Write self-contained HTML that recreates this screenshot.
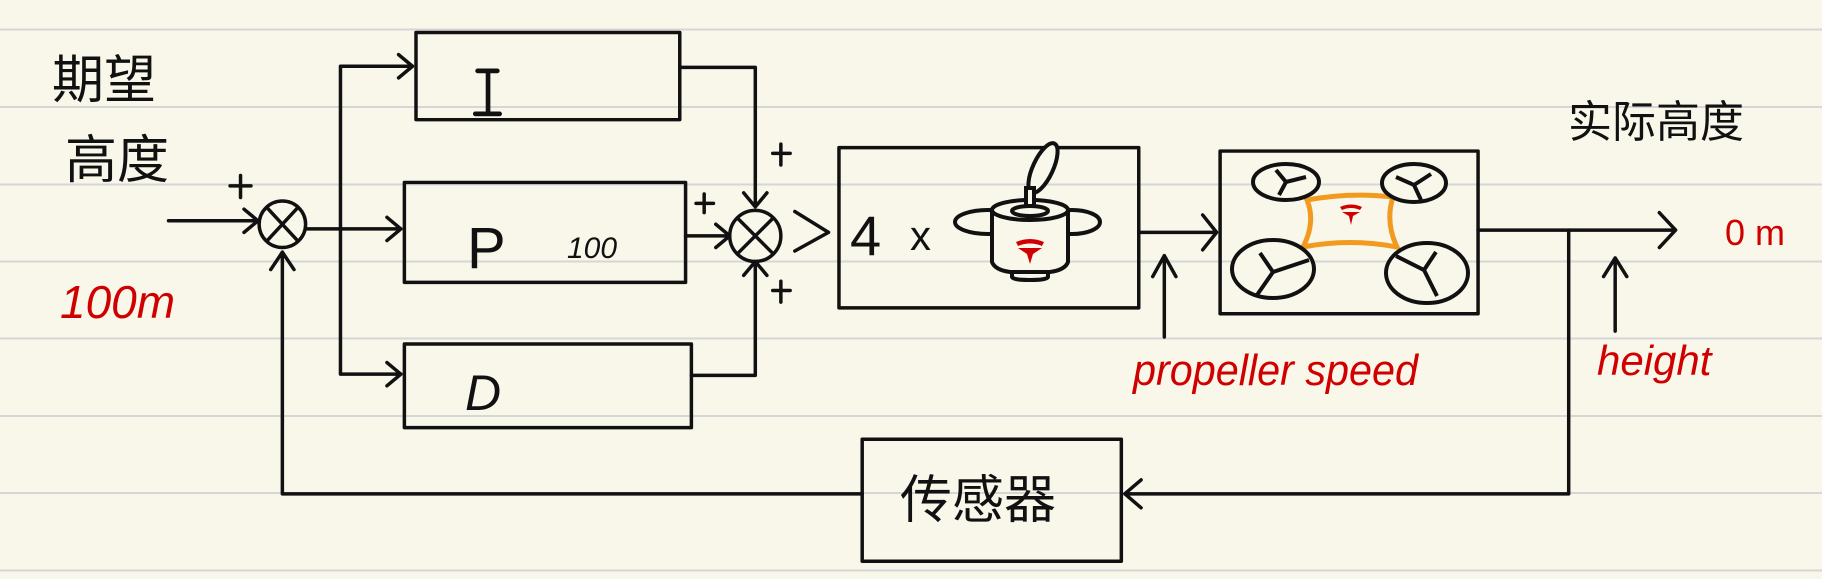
<!DOCTYPE html>
<html><head><meta charset="utf-8"><style>
html,body{margin:0;padding:0;background:#f8f7ea;}
svg{display:block}
text{font-family:"Liberation Sans","Noto Sans CJK SC",sans-serif;}
</style></head><body>
<svg width="1822" height="579" viewBox="0 0 1822 579" xmlns="http://www.w3.org/2000/svg">
<rect width="1822" height="579" fill="#f8f7ea"/>
<g stroke="#d6d6d6" stroke-width="2">
<line x1="0" y1="29.5" x2="1822" y2="29.5"/><line x1="0" y1="107" x2="1822" y2="107"/>
<line x1="0" y1="184.5" x2="1822" y2="184.5"/><line x1="0" y1="261.5" x2="1822" y2="261.5"/>
<line x1="0" y1="338.5" x2="1822" y2="338.5"/><line x1="0" y1="416" x2="1822" y2="416"/>
<line x1="0" y1="493" x2="1822" y2="493"/><line x1="0" y1="570.5" x2="1822" y2="570.5"/>
</g>
<g transform="scale(1.162)" fill="none" stroke="#111" stroke-width="3" stroke-linecap="round" stroke-linejoin="round">
<rect x="358" y="28" width="227" height="75"/>
<rect x="348" y="157" width="242" height="86"/>
<rect x="348" y="296" width="247" height="72"/>
<rect x="722" y="127" width="258" height="138"/>
<rect x="1050" y="130" width="222" height="140"/>
<rect x="742" y="378" width="223" height="105"/>
<circle cx="243" cy="193" r="20"/><path d="M230 179L256 207M256 179L230 207"/>
<circle cx="650" cy="203" r="22"/><path d="M635 188L665 218M665 188L635 218"/>
<path d="M145 190H222M210 180L222 190L210 200"/>
<path d="M263 197H345M333 187L345 197L333 207"/>
<path d="M293 197V57H355M343 47L355 57L343 67"/>
<path d="M293 197V322H345M333 312L345 322L333 332"/>
<path d="M585 58H650V178M640 166L650 178L660 166"/>
<path d="M590 203H628M616 193L628 203L616 213"/>
<path d="M595 323H650V225M640 237L650 225L660 237"/>
<path d="M684 182L713 200L684 216"/>
<path d="M980 200H1047M1035 185L1047 200L1035 215"/>
<path d="M1002 290V220M992 238L1002 220L1012 238"/>
<path d="M1272 198H1442M1428 183L1442 198L1428 213"/>
<path d="M1350 198V425H968M982 413L968 425L982 437"/>
<path d="M1390 285V222M1380 238L1390 222L1400 238"/>
<path d="M742 425H243V217M233 232L243 217L253 232"/>
<path d="M198 160H216M207 151V170M599 175H614M606 167V183M665 132H680M672 124V142M665 250H680M672 242V260"/>
<path d="M420 61V98M411 61H428M409 98H430" stroke-width="4"/>
</g>
<!-- motor -->
<g fill="none" stroke="#111" stroke-width="4">
<ellipse cx="988" cy="222" rx="33" ry="12"/>
<ellipse cx="1072" cy="222" rx="28" ry="12"/>
<path d="M992 210V262Q995 270 1010 272H1050Q1065 270 1068 262V210" fill="#f8f7ea"/>
<ellipse cx="1030" cy="210" rx="38" ry="10" fill="#f8f7ea"/>
<ellipse cx="1030" cy="211" rx="18" ry="5"/>
<path d="M1012 272V277Q1013 280 1030 280Q1047 280 1048 277V272"/>
<ellipse cx="1043" cy="168" rx="10" ry="27" transform="rotate(25 1043 168)" fill="#f8f7ea"/>
<rect x="1026" y="188" width="8" height="18" fill="#f8f7ea"/>
</g>
<g fill="#d10000"><path d="M1016 242Q1030 236 1044 242L1042 246Q1030 241 1018 246Z"/><path d="M1018 248L1042 248L1033 254L1030 264L1027 254Z"/></g>
<!-- drone -->
<path d="M1307 200Q1350 192 1393 197Q1385 222 1397 247Q1350 238 1303 247Q1316 222 1307 200Z" fill="none" stroke="#f29a20" stroke-width="5"/>
<g fill="none" stroke="#111" stroke-width="4">
<ellipse cx="1286" cy="182" rx="33" ry="18" fill="#f8f7ea"/><path d="M1276 170L1286 182L1306 177M1286 182L1279 195"/>
<ellipse cx="1414" cy="183" rx="32" ry="19" fill="#f8f7ea"/><path d="M1396 177L1414 185L1431 174M1414 185L1421 200"/>
<ellipse cx="1273" cy="269" rx="41" ry="29" fill="#f8f7ea"/><path d="M1260 253L1273 272L1309 260M1273 272L1257 295"/>
<ellipse cx="1427" cy="273" rx="41" ry="30" fill="#f8f7ea"/><path d="M1396 256L1424 270L1436 252M1424 270L1437 296"/>
</g>
<g fill="#d10000"><path d="M1340 207Q1351 202 1362 207L1360 210Q1351 206 1342 210Z"/><path d="M1342 212L1360 212L1353 216L1351 225L1349 216Z"/></g>
<!-- text -->
<g fill="#111">
<text x="52" y="98" font-size="52">期望</text>
<text x="65" y="178" font-size="52">高度</text>
<text x="467" y="268" font-size="58">P</text>
<text x="567" y="258" font-size="30" font-style="italic">100</text>
<text x="465" y="410" font-size="50" font-style="italic">D</text>
<text x="850" y="255" font-size="56">4</text>
<text x="910" y="250" font-size="42">x</text>
<text x="1568" y="137" font-size="44">实际高度</text>
<text x="900" y="518" font-size="52">传感器</text>
</g>
<g fill="#d10000">
<text x="60" y="318" font-size="46" font-style="italic">100m</text>
<text x="1725" y="245" font-size="36">0 m</text>
<text x="1133" y="385" font-size="44" font-style="italic" textLength="285" lengthAdjust="spacingAndGlyphs">propeller speed</text>
<text x="1597" y="375" font-size="42" font-style="italic">height</text>
</g>
</svg>
</body></html>
